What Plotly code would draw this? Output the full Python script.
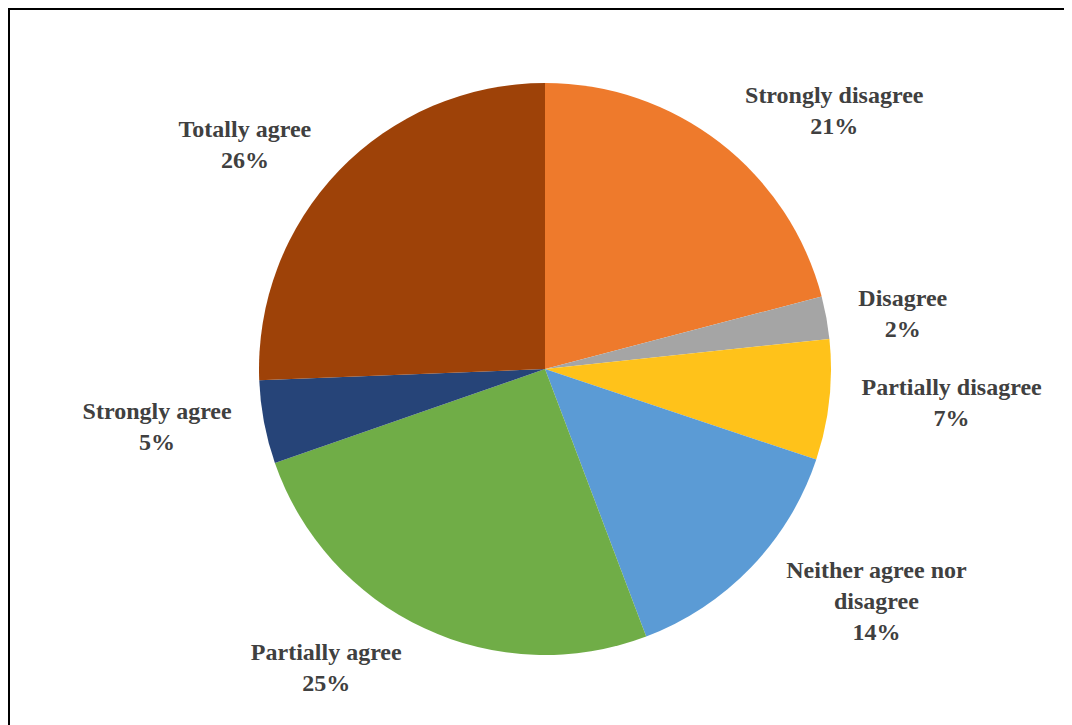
import plotly.graph_objects as go

categories = ["Strongly disagree", "Disagree", "Partially disagree",
              "Neither agree nor<br>disagree", "Partially agree",
              "Strongly agree", "Totally agree"]
values = [20.9, 2.4, 6.8, 14.1, 25.4, 4.7, 25.6]
colors = ["#EE7A2C", "#A5A5A5", "#FFC21A", "#5B9BD5", "#70AD47", "#264478", "#9E4208"]

W, H = 1072, 725
off = 8  # page body margin
cx, cy, r = 545 - off, 369 - off, 286
rl = r + 18  # radius of the invisible label-carrying pie


def dom(rad):
    return dict(x=[(cx - rad) / W, (cx + rad) / W],
                y=[(H - cy - rad) / H, (H - cy + rad) / H])


fig = go.Figure()
fig.add_trace(go.Pie(
    labels=categories, values=values, sort=False, direction="clockwise", rotation=0,
    marker=dict(colors=colors, line=dict(width=0)),
    textinfo="none", showlegend=False, hoverinfo="label+percent",
    domain=dom(r),
))
fig.add_trace(go.Pie(
    labels=categories, values=values, sort=False, direction="clockwise", rotation=0,
    marker=dict(colors=["rgba(0,0,0,0)"] * len(values), line=dict(width=0)),
    texttemplate="<b>%{label}<br>%{percent:.0%}</b>",
    textposition="outside",
    textfont=dict(family="Times New Roman, Liberation Serif, serif", size=24, color="#404040"),
    showlegend=False, hoverinfo="skip",
    domain=dom(rl),
))

fig.add_shape(type="rect", xref="paper", yref="paper",
              x0=1 / W, x1=(1068 - off) / W, y0=-0.05, y1=(H - 1) / H,
              line=dict(color="black", width=2), fillcolor="rgba(0,0,0,0)")

fig.update_layout(
    width=W, height=H,
    margin=dict(l=0, r=0, t=0, b=0),
    paper_bgcolor="white", plot_bgcolor="white",
)

fig.write_html("out.html")
